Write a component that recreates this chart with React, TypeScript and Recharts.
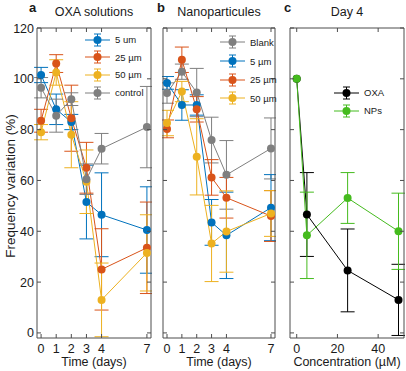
import React from 'react';
import { LineChart, Line, XAxis, YAxis, ErrorBar, Legend } from 'recharts';

const FONT = '"Liberation Sans", Arial, Helvetica, sans-serif';
const AXIS = '#4d4d4d';
const TEXT = '#1a1a1a';

const BLUE = '#0072bd';
const ORANGE = '#d95319';
const YELLOW = '#edb120';
const GREY = '#7f7f7f';
const GREEN = '#45bb1e';
const BLACK = '#000000';

const DAYS = [0, 1, 2, 3, 4, 7];
const DAY_TICKS = [0, 1, 2, 3, 4, 7];
const Y_TICKS = [0, 20, 40, 60, 80, 100, 120];
const CONC = [0, 5, 25, 50];
const CONC_TICKS = [0, 20, 40];

// a: OXA solutions
const oxa5 = [101.5, 88, 83, 51.5, 46.5, 40.5];
const oxa5Err = [3, 6, 3, 14.5, 16.5, 17];
const oxa25 = [83.5, 106, 84.5, 65, 25, 33.5];
const oxa25Err = [4.5, 3.5, 13, 10, 16, 18];
const oxa50 = [79, 102.5, 78, 59.5, 13, 31.5];
const oxa50Err = [3, 5, 13, 12.5, 14.5, 15];
const oxaCtrl = [96.5, 85.5, 92, 60.5, 72.5, 81];
const oxaCtrlErr = [4, 6.5, 2.5, 6, 6, 16];

// b: nanoparticules
const npBlank = [94.4, 102.8, 94.6, 75.9, 62.2, 72.6];
const npBlankErr = [4, 3, 9.5, 9, 13.5, 12];
const np5 = [98.4, 89.7, 89.7, 43.5, 38.4, 49.3];
const np5Err = [2.5, 6, 4, 9, 17, 13];
const np25 = [80.3, 107.5, 88, 61.2, 53.2, 46];
const np25Err = [3.5, 5, 5, 7, 8, 10];
const np50 = [82.6, 95, 69.3, 35.2, 39.9, 47];
const np50Err = [5, 4, 15, 15, 16, 9];

// c: day 4
const day4Oxa = [100, 46.6, 24.6, 13];
const day4OxaErr = [0, 16.5, 16.3, 14];
const day4Np = [100, 38.4, 53.1, 40];
const day4NpErr = [0, 17, 10, 15];

type Series = { key: string; name: string; color: string; values: number[]; errors: number[] };

const seriesA: Series[] = [
  { key: 's5', name: '5 um', color: BLUE, values: oxa5, errors: oxa5Err },
  { key: 's25', name: '25 µm', color: ORANGE, values: oxa25, errors: oxa25Err },
  { key: 's50', name: '50 µm', color: YELLOW, values: oxa50, errors: oxa50Err },
  { key: 'ctrl', name: 'control', color: GREY, values: oxaCtrl, errors: oxaCtrlErr },
];

const seriesB: Series[] = [
  { key: 'blank', name: 'Blank', color: GREY, values: npBlank, errors: npBlankErr },
  { key: 's5', name: '5 µm', color: BLUE, values: np5, errors: np5Err },
  { key: 's25', name: '25 µm', color: ORANGE, values: np25, errors: np25Err },
  { key: 's50', name: '50 µm', color: YELLOW, values: np50, errors: np50Err },
];

const seriesC: Series[] = [
  { key: 'oxa', name: 'OXA', color: BLACK, values: day4Oxa, errors: day4OxaErr },
  { key: 'nps', name: 'NPs', color: GREEN, values: day4Np, errors: day4NpErr },
];

const buildRows = (xs: number[], series: Series[]) =>
  xs.map((x, i) => {
    const row: Record<string, number> = { x };
    series.forEach((s) => {
      row[s.key] = s.values[i];
      row[s.key + 'Err'] = s.errors[i];
    });
    return row;
  });

const bottomTick = (props: any) => {
  const { x, y, payload } = props;
  return (
    <g>
      <line x1={x} y1={y} x2={x} y2={y - 4} stroke={AXIS} />
      <text x={x} y={y + 15} textAnchor="middle" fontSize={12.5} fontFamily={FONT} fill={TEXT}>
        {payload.value}
      </text>
    </g>
  );
};

const topTick = (props: any) => {
  const { x, y } = props;
  return <line x1={x} y1={y} x2={x} y2={y + 4} stroke={AXIS} />;
};

const leftTick = (showLabel: boolean) => (props: any) => {
  const { x, y, payload } = props;
  return (
    <g>
      <line x1={x} y1={y} x2={x + 4} y2={y} stroke={AXIS} />
      {showLabel && (
        <text x={x - 3} y={y + 4.5} textAnchor="end" fontSize={12.5} fontFamily={FONT} fill={TEXT}>
          {payload.value}
        </text>
      )}
    </g>
  );
};

const rightTick = (props: any) => {
  const { x, y } = props;
  return <line x1={x} y1={y} x2={x - 4} y2={y} stroke={AXIS} />;
};

const makeLegend = (series: Series[], rowH: number) => () => (
  <div style={{ fontFamily: FONT, fontSize: 9.5, color: TEXT }}>
    {series.map((s) => (
      <div key={s.key} style={{ display: 'flex', alignItems: 'center', height: rowH, whiteSpace: 'nowrap' }}>
        <svg width={25} height={14} style={{ display: 'block' }}>
          <line x1={0} y1={7} x2={25} y2={7} stroke={s.color} strokeWidth={1} />
          <line x1={12.5} y1={1} x2={12.5} y2={13} stroke={s.color} strokeWidth={1} />
          <line x1={9} y1={1} x2={16} y2={1} stroke={s.color} strokeWidth={1} />
          <line x1={9} y1={13} x2={16} y2={13} stroke={s.color} strokeWidth={1} />
          <circle cx={12.5} cy={7} r={4} fill={s.color} />
        </svg>
        <span style={{ marginLeft: 5 }}>{s.name}</span>
      </div>
    ))}
  </div>
);

type PanelProps = {
  left: number;
  marginLeft: number;
  plotWidth: number;
  xs: number[];
  series: Series[];
  xDomain: [number, number];
  xTicks: number[];
  xLabel: string;
  yLabel?: string;
  legendPos: { left: number; top: number };
  legendRow: number;
};

// plot box: top 28, bottom 338
const Panel = ({ left, marginLeft, plotWidth, xs, series, xDomain, xTicks, xLabel, yLabel, legendPos, legendRow }: PanelProps) => {
  const data = buildRows(xs, series);
  const showY = !!yLabel;
  return (
    <div style={{ position: 'absolute', left: left - marginLeft - 1, top: 0 }}>
      <LineChart
        width={marginLeft + plotWidth + 2}
        height={371}
        data={data}
        margin={{ top: 27, right: 0, bottom: 32, left: marginLeft }}
      >
        <XAxis
          dataKey="x"
          type="number"
          domain={xDomain}
          ticks={xTicks}
          allowDataOverflow
          height={1}
          tickSize={0}
          tickMargin={0}
          axisLine={{ stroke: AXIS }}
          tick={bottomTick}
          label={{ value: xLabel, position: 'bottom', offset: 18, fontSize: 12.5, fontFamily: FONT, fill: TEXT }}
        />
        <XAxis
          xAxisId="top"
          orientation="top"
          dataKey="x"
          type="number"
          domain={xDomain}
          ticks={xTicks}
          allowDataOverflow
          height={1}
          tickSize={0}
          tickMargin={0}
          axisLine={{ stroke: AXIS }}
          tick={topTick}
        />
        <YAxis
          type="number"
          domain={[-2, 120]}
          ticks={Y_TICKS}
          allowDataOverflow
          width={1}
          tickSize={0}
          tickMargin={0}
          axisLine={{ stroke: AXIS }}
          tick={leftTick(showY)}
          label={
            showY
              ? {
                  value: yLabel,
                  angle: -90,
                  position: 'left',
                  offset: 26,
                  fontSize: 13.5,
                  fontFamily: FONT,
                  fill: TEXT,
                  dy: 3,
                  style: { textAnchor: 'middle' },
                }
              : undefined
          }
        />
        <YAxis
          yAxisId="right"
          orientation="right"
          type="number"
          domain={[-2, 120]}
          ticks={Y_TICKS}
          allowDataOverflow
          width={1}
          tickSize={0}
          tickMargin={0}
          axisLine={{ stroke: AXIS }}
          tick={rightTick}
        />
        <Legend
          layout="vertical"
          align="center"
          verticalAlign="middle"
          content={makeLegend(series, legendRow)}
          wrapperStyle={{ left: legendPos.left + marginLeft + 1, top: legendPos.top, width: 'auto' }}
        />
        {series.map((s) => (
          <Line
            key={s.key}
            dataKey={s.key}
            name={s.name}
            stroke={s.color}
            strokeWidth={1}
            dot={{ r: 4, fill: s.color, stroke: s.color, strokeWidth: 0 }}
            activeDot={false}
            isAnimationActive={false}
          >
            <ErrorBar dataKey={s.key + 'Err'} direction="y" width={7} stroke={s.color} strokeWidth={1} />
          </Line>
        ))}
      </LineChart>
    </div>
  );
};

const titleStyle: React.CSSProperties = {
  position: 'absolute',
  top: 4,
  fontFamily: FONT,
  fontSize: 12.5,
  color: TEXT,
  textAlign: 'center',
  lineHeight: '16px',
};

const letterStyle: React.CSSProperties = {
  position: 'absolute',
  top: 0,
  fontFamily: FONT,
  fontSize: 13,
  fontWeight: 'bold',
  color: TEXT,
  lineHeight: '16px',
};

export default function App() {
  return (
    <div style={{ position: 'absolute', left: 0, top: 0, width: 406, height: 371, background: '#fff', overflow: 'hidden' }}>
      <Panel
        left={37}
        marginLeft={36}
        plotWidth={114}
        xs={DAYS}
        series={seriesA}
        xDomain={[-0.27, 7.27]}
        xTicks={DAY_TICKS}
        xLabel="Time (days)"
        yLabel="Frequency variation (%)"
        legendPos={{ left: 48, top: 31 }}
        legendRow={17.6}
      />
      <Panel
        left={163}
        marginLeft={0}
        plotWidth={112}
        xs={DAYS}
        series={seriesB}
        xDomain={[-0.27, 7.27]}
        xTicks={DAY_TICKS}
        xLabel="Time (days)"
        legendPos={{ left: 57, top: 33 }}
        legendRow={18.7}
      />
      <Panel
        left={290}
        marginLeft={0}
        plotWidth={114}
        xs={CONC}
        series={seriesC}
        xDomain={[-3.3, 52.7]}
        xTicks={CONC_TICKS}
        xLabel="Concentration (µM)"
        legendPos={{ left: 44, top: 83.5 }}
        legendRow={18.3}
      />
      <div style={{ ...letterStyle, left: 29 }}>a</div>
      <div style={{ ...letterStyle, left: 157 }}>b</div>
      <div style={{ ...letterStyle, left: 284 }}>c</div>
      <div style={{ ...titleStyle, left: 37, width: 114 }}>OXA solutions</div>
      <div style={{ ...titleStyle, left: 163, width: 112 }}>Nanoparticules</div>
      <div style={{ ...titleStyle, left: 290, width: 114 }}>Day 4</div>
    </div>
  );
}
